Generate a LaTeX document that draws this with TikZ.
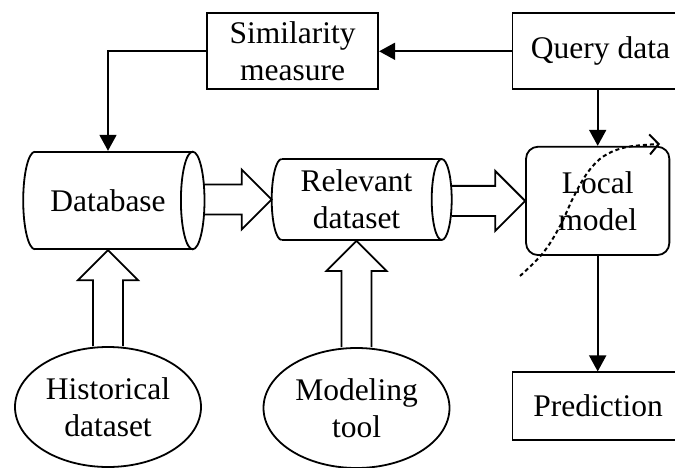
\documentclass[tikz,border=0pt]{standalone}
\usepackage{fontspec}
\setmainfont{Liberation Serif}
\usetikzlibrary{arrows.meta,shapes.geometric,calc}

\tikzset{
  box/.style={draw, rectangle, inner sep=0pt, align=center},
  roundbox/.style={box, rounded corners=12pt},
  oval/.style={draw, ellipse, inner sep=0pt, align=center, minimum width=186pt, minimum height=120pt},
  drumtext/.style={inner sep=0pt, align=center},
  thinarrow/.style={-{Triangle[length=16pt,width=17pt]}},
  curvepath/.style={line width=2pt, dash pattern=on 4pt off 3pt, -{Straight Barb[length=9pt,width=20pt]}}
}

% horizontal drum: left edge, right edge, centre y, half height, end radius
\newcommand\drumbody[5]{%
  \draw (#1,#3-#4) -- (#2,#3-#4) (#1,#3+#4) -- (#2,#3+#4);
  \draw (#1,#3-#4) arc[start angle=90,end angle=270,x radius=#5pt,y radius=#4pt];
  \draw (#2,#3) ellipse[x radius=#5pt,y radius=#4pt];
}
% hollow block arrow pointing right, from #1 to #2
\newcommand\blockright[2]{%
  \draw let \p1=(#1), \p2=(#2) in
    (\x1,\y2+15pt) -- (\x2-30pt,\y2+15pt) -- (\x2-30pt,\y2+30pt) -- (\x2,\y2)
    -- (\x2-30pt,\y2-30pt) -- (\x2-30pt,\y2-15pt) -- (\x1,\y2-15pt);
}
% hollow block arrow pointing up, from #1 to #2
\newcommand\blockup[2]{%
  \draw let \p1=(#1), \p2=(#2) in
    (\x2-15pt,\y1) -- (\x2-15pt,\y2-30pt) -- (\x2-30pt,\y2-30pt) -- (\x2,\y2)
    -- (\x2+30pt,\y2-30pt) -- (\x2+15pt,\y2-30pt) -- (\x2+15pt,\y1);
}

\begin{document}
\begin{tikzpicture}[x=1pt,y=-1pt,font=\fontsize{31.5}{37}\selectfont,line width=1.8pt,line join=miter]
\clip (0,0) rectangle (675,468);

% boxes
\node[box, minimum width=171pt, minimum height=76pt] (sim) at (292.7,51.3) {Similarity\\measure};
\node[box, minimum width=176pt, minimum height=76pt] (query) at (600.5,51.3) {Query data};
\node[roundbox, minimum width=143.3pt, minimum height=108.3pt] (loc) at (597.7,200.9) {Local\\model};
\node[box, minimum width=171pt, minimum height=67.7pt] (pred) at (598,406.2) {Prediction};

% drums
\drumbody{35}{192.7}{200.5}{48.8}{11.8}
\node[drumtext, minimum height=97.6pt] (db) at (108,200.5) {Database};
\coordinate (dbE) at (204,200.5);

\drumbody{281.7}{441.7}{199.5}{40.5}{10}
\node[drumtext, minimum height=81pt] (rel) at (356.5,199.5) {Relevant\\dataset};
\coordinate (relW) at (271.7,199.5);
\coordinate (relE) at (451.7,199.5);

% sources
\node[oval] (hist) at (108,407) {Historical\\dataset};
\node[oval] (tool) at (356.5,408) {Modeling\\tool};

% thin connectors
\draw[thinarrow] (query.west) -- (sim.east);
\draw[thinarrow] (sim.west) -| (db.north);
\draw[thinarrow] (loc.north |- query.south) -- (loc.north);
\draw[thinarrow] (loc.south) -- (loc.south |- pred.north);

% block arrows
\blockright{dbE}{relW}
\blockright{relE}{loc.west}
\blockup{hist.north}{db.south}
\blockup{tool.north}{rel.south}

% fitted curve through the local model
\draw[curvepath] plot[smooth, tension=0.6] coordinates
  {(520,276) (543,253) (560,226) (574,196) (588,172) (604,156) (627,147) (660,144)};
\end{tikzpicture}
\end{document}
